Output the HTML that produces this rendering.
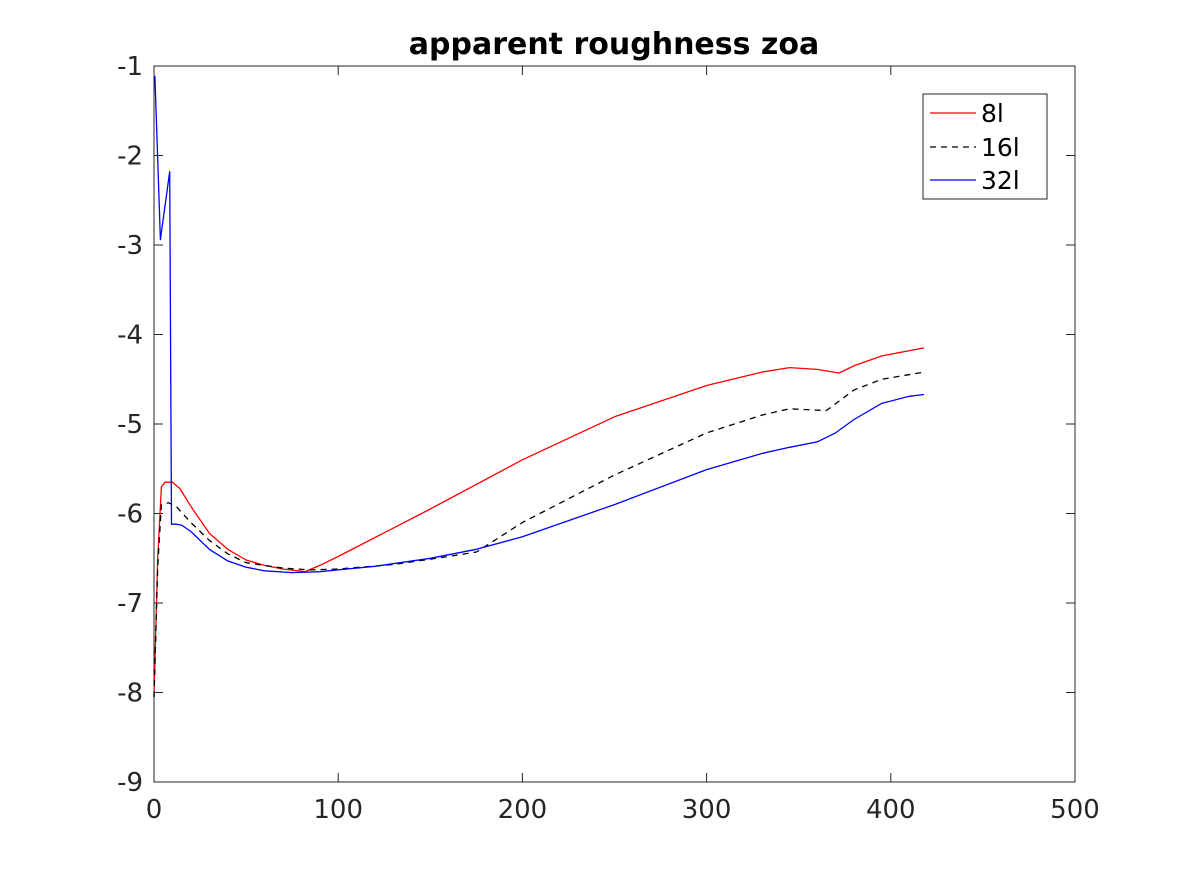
<!DOCTYPE html>
<html><head><meta charset="utf-8"><style>
html,body{margin:0;padding:0;background:#fff;}
svg{display:block;font-family:"DejaVu Sans","Liberation Sans",sans-serif;}
</style></head><body>
<svg id="chart" width="1188" height="879">
<rect x="0" y="0" width="1188" height="879" fill="#fff"/>
<text x="614" y="54" text-anchor="middle" font-size="30" font-weight="bold" fill="#000">apparent roughness zoa</text>
<rect x="154" y="66" width="921" height="716" fill="none" stroke="#262626" stroke-width="1"/>
<g id="ticks"></g>
<g id="series"></g>
<g>
<rect x="923" y="94" width="124" height="105" fill="#fff" stroke="#262626"/>
<line x1="930" y1="113" x2="976" y2="113" stroke="#ff0000" stroke-width="1.2"/>
<text x="981" y="122" font-size="25" fill="#000">8l</text>
<line x1="930" y1="147" x2="976" y2="147" stroke="#000" stroke-width="1.2" stroke-dasharray="6,5"/>
<text x="981" y="156" font-size="25" fill="#000">16l</text>
<line x1="930" y1="180" x2="976" y2="180" stroke="#0000ff" stroke-width="1.2"/>
<text x="981" y="189" font-size="25" fill="#000">32l</text>
</g>
</svg>
<script>
const xTicks=[0,100,200,300,400,500];
const yTicks=[-1,-2,-3,-4,-5,-6,-7,-8,-9];
const xs8=[0,2,4,6,10,14,20,30,40,50,60,70,82,90,100,150,200,250,300,330,345,360,372,380,395,418];
const ys8=[-8.05,-6.5,-5.7,-5.65,-5.65,-5.72,-5.92,-6.22,-6.4,-6.52,-6.58,-6.62,-6.65,-6.58,-6.48,-5.95,-5.4,-4.92,-4.57,-4.42,-4.37,-4.39,-4.43,-4.35,-4.24,-4.15];
const xs16=[0,2,4,8,12,20,30,40,50,70,85,100,130,160,175,200,250,300,330,345,365,380,395,418];
const ys16=[-8.05,-6.6,-5.9,-5.88,-5.92,-6.1,-6.3,-6.45,-6.55,-6.61,-6.63,-6.62,-6.57,-6.48,-6.43,-6.1,-5.57,-5.1,-4.9,-4.83,-4.85,-4.62,-4.5,-4.42];
const xs32=[0.5,3.5,8.5,9.5,12,15,20,30,40,50,60,75,90,100,120,150,175,200,250,300,330,345,360,370,380,395,410,418];
const ys32=[-1.11,-2.94,-2.18,-6.12,-6.12,-6.13,-6.2,-6.4,-6.53,-6.6,-6.64,-6.66,-6.65,-6.63,-6.59,-6.5,-6.4,-6.26,-5.9,-5.51,-5.33,-5.26,-5.2,-5.1,-4.95,-4.77,-4.69,-4.67];
const X=v=>154+v*(921/500);
const Y=v=>66+(-1-v)*(716/8);
const NS="http://www.w3.org/2000/svg";
const tg=document.getElementById('ticks');
xTicks.forEach(t=>{
  const x=X(t);
  [[782,773],[66,75]].forEach(p=>{const l=document.createElementNS(NS,'line');
  l.setAttribute('x1',x);l.setAttribute('x2',x);l.setAttribute('y1',p[0]);l.setAttribute('y2',p[1]);
  l.setAttribute('stroke','#262626');
  
  
  tg.appendChild(l);});
  const tx=document.createElementNS(NS,'text');
  tx.setAttribute('x',x);tx.setAttribute('y',818);tx.setAttribute('text-anchor','middle');
  tx.setAttribute('font-size','26');tx.setAttribute('fill','#262626');tx.textContent=t;
  
  
  tg.appendChild(tx);
});
yTicks.forEach(t=>{
  const y=Y(t);
  [[154,163],[1075,1066]].forEach(p=>{const l=document.createElementNS(NS,'line');
  l.setAttribute('x1',p[0]);l.setAttribute('x2',p[1]);l.setAttribute('y1',y);l.setAttribute('y2',y);
  l.setAttribute('stroke','#262626');
  
  
  tg.appendChild(l);});
  const tx=document.createElementNS(NS,'text');
  tx.setAttribute('x',143);tx.setAttribute('y',y+9);tx.setAttribute('text-anchor','end');
  tx.setAttribute('font-size','26');tx.setAttribute('fill','#262626');tx.textContent=t;
  
  
  tg.appendChild(tx);
});
const sg=document.getElementById('series');
function draw(xs,ys,color,dash,name){
  const p=document.createElementNS(NS,'path');
  p.setAttribute('d',xs.map((x,i)=>(i?'L':'M')+X(x).toFixed(1)+' '+Y(ys[i]).toFixed(1)).join(' '));
  p.setAttribute('fill','none');p.setAttribute('stroke',color);p.setAttribute('stroke-width','1.3');
  p.setAttribute('stroke-linejoin','round');
  if(dash)p.setAttribute('stroke-dasharray',dash);
  
  
  sg.appendChild(p);
}
draw(xs8,ys8,'#ff0000',null,'series-8l');
draw(xs16,ys16,'#000000','6,5','series-16l');
draw(xs32,ys32,'#0000ff',null,'series-32l');
</script>
</body></html>
